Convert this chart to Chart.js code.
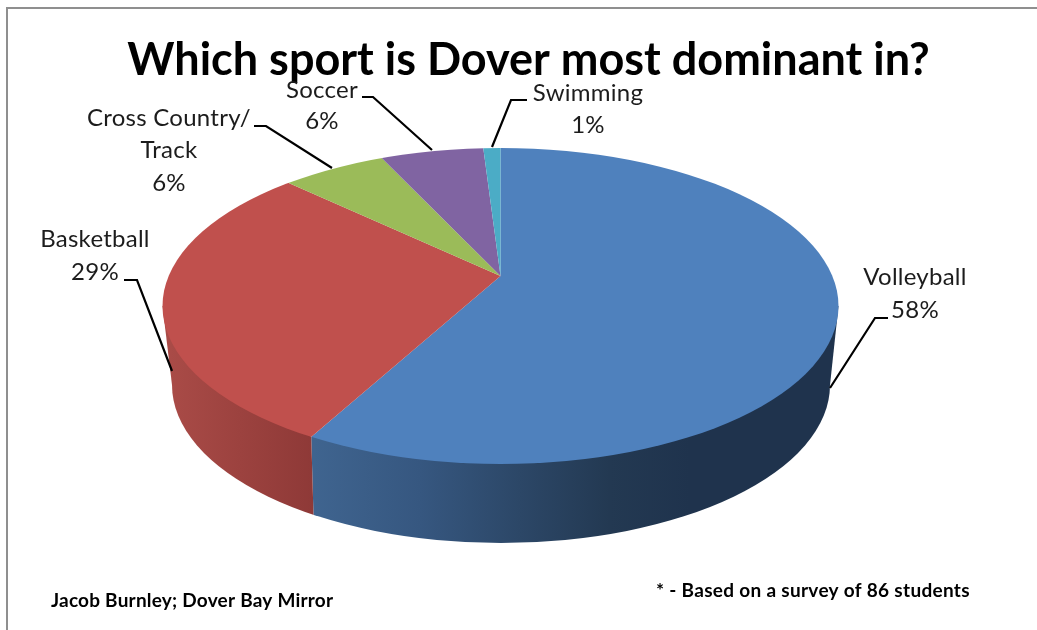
<!DOCTYPE html>
<html>
<head>
<meta charset="utf-8">
<style>
html,body{margin:0;padding:0;background:#fff;overflow:hidden;}
canvas{display:block;}
</style>
<script src="https://cdn.jsdelivr.net/npm/chart.js@4"></script>
</head>
<body>
<canvas id="chartSport" width="1037" height="630"></canvas>
<script>
// data
const titleText="Which sport is Dover most dominant in?";
const categories=["Volleyball","Basketball","Cross Country/Track","Soccer","Swimming"];
const percents=[58,29,6,6,1];
const colors=["#4f81bd","#c0504d","#9bbb59","#8064a2","#4bacc6"];
const creditText="Jacob Burnley; Dover Bay Mirror";
const noteText="* - Based on a survey of 86 students";

// projected disc: top face, bottom face, and where the slices meet
const topFace={x:500.5,y:306,rx:338,ry:158};
const botFace={x:501,y:385,rx:329,ry:158};
const apex={x:500.5,y:276};
const squash=topFace.ry/topFace.rx;

// side wall shading, left to right
const wallStops={
0:[[315,"#3f648f"],[420,"#365780"],[520,"#2c4767"],[610,"#233952"],[690,"#1f334d"],[835,"#1f334d"]],
1:[[170,"#a94b47"],[240,"#9c423f"],[315,"#8e3937"]]
};

// label placement: centre x, baselines, leader line
const labelSpots=[
{lines:["Volleyball"],x:915,y:[285,318],leader:[[888,318],[875,318],[830,388]]},
{lines:["Basketball"],x:95,y:[247,280],leader:[[124,280],[137,280],[172,371]]},
{lines:["Cross Country/","Track"],x:169,y:[126,158,191],leader:[[254,126],[266,126],[332,168]]},
{lines:["Soccer"],x:322,y:[98,129],leader:[[362,97],[373,97],[432,150]]},
{lines:["Swimming"],x:588,y:[101,133],leader:[[527,100],[511,100],[492,147]]}
];

// where a ray from the apex leaves the top ellipse
function rimPoint(angle){
let dx=Math.cos(angle),dy=Math.sin(angle)*squash;
let ox=(apex.x-topFace.x)/topFace.rx,oy=(apex.y-topFace.y)/topFace.ry;
let ax=dx/topFace.rx,ay=dy/topFace.ry;
let a=ax*ax+ay*ay,b=2*(ox*ax+oy*ay),c=ox*ox+oy*oy-1;
let t=(-b+Math.sqrt(b*b-4*a*c))/(2*a);
return {x:apex.x+dx*t,y:apex.y+dy*t};
}

function bottomX(x){
return botFace.x+(x-topFace.x)*botFace.rx/topFace.rx;
}

function drawWalls(ctx,arcs){
arcs.forEach((arc,i)=>{
if(!wallStops[i]) return;
let s=rimPoint(arc.startAngle),e=rimPoint(arc.endAngle);
let sFront=s.y>topFace.y,eFront=e.y>topFace.y;
if(!sFront&&!eFront) return;
let hiTop=sFront?s.x:1037,loTop=eFront?e.x:0;
let hiBot=sFront?bottomX(s.x):1037,loBot=eFront?bottomX(e.x):0;
ctx.save();
ctx.beginPath();
ctx.moveTo(loTop,eFront?e.y:0);
ctx.lineTo(hiTop,sFront?s.y:0);
ctx.lineTo(hiBot,630);
ctx.lineTo(loBot,630);
ctx.closePath();
ctx.clip();
let g=ctx.createLinearGradient(0,0,1037,0);
wallStops[i].forEach(st=>g.addColorStop(st[0]/1037,st[1]));
ctx.fillStyle=g;
ctx.beginPath();
ctx.ellipse(botFace.x,botFace.y,botFace.rx,botFace.ry,0,0,Math.PI*2);
ctx.fill();
ctx.beginPath();
ctx.moveTo(topFace.x-topFace.rx,topFace.y);
ctx.lineTo(topFace.x+topFace.rx,topFace.y);
ctx.lineTo(botFace.x+botFace.rx,botFace.y);
ctx.lineTo(botFace.x-botFace.rx,botFace.y);
ctx.closePath();
ctx.fill();
ctx.restore();
});
}

const disc3d={
id:"disc3d",
beforeDraw(chart){
let ctx=chart.ctx;
ctx.save();
ctx.fillStyle="#fff";
ctx.fillRect(0,0,1037,630);
ctx.strokeStyle="#8f8f8f";
ctx.lineWidth=2;
ctx.beginPath();
ctx.moveTo(7,630);
ctx.lineTo(7,8);
ctx.lineTo(1037,8);
ctx.stroke();
ctx.restore();
},
beforeDatasetDraw(chart,args){
let ctx=chart.ctx;
let arcs=args.meta.data;
ctx.save();
drawWalls(ctx,arcs);
ctx.beginPath();
ctx.ellipse(topFace.x,topFace.y,topFace.rx,topFace.ry,0,0,Math.PI*2);
ctx.clip();
ctx.translate(apex.x,apex.y);
ctx.scale(1,squash);
ctx.translate(-arcs[0].x,-arcs[0].y);
},
afterDatasetDraw(chart){
chart.ctx.restore();
},
afterDraw(chart){
let ctx=chart.ctx;
ctx.save();
ctx.textAlign="center";
ctx.textBaseline="alphabetic";
ctx.fillStyle="#1c1c1c";
ctx.font="24px Lato";
ctx.letterSpacing="0.25px";
labelSpots.forEach((spot,i)=>{
let lines=spot.lines.concat([percents[i]+"%"]);
lines.forEach((t,k)=>ctx.fillText(t,spot.x,spot.y[k]));
ctx.strokeStyle="#000";
ctx.lineWidth=2.2;
ctx.beginPath();
spot.leader.forEach((p,k)=>k?ctx.lineTo(p[0],p[1]):ctx.moveTo(p[0],p[1]));
ctx.stroke();
});
ctx.textAlign="left";
ctx.fillStyle="#000";
ctx.font="bold 19px Lato";
ctx.letterSpacing="0.22px";
ctx.fillText(creditText,51,607);
ctx.letterSpacing="0.3px";
ctx.fillText(noteText,656,597);
ctx.restore();
}
};

new Chart(document.getElementById("chartSport"),{
type:"pie",
data:{
labels:categories,
datasets:[{
data:percents,
backgroundColor:colors,
borderWidth:0,
clip:false
}]
},
options:{
responsive:false,
animation:false,
radius:900,
layout:{padding:{left:20}},
events:[],
plugins:{
legend:{display:false},
tooltip:{enabled:false},
title:{
display:true,
text:titleText,
color:"#000",
font:{family:"Lato",size:45,weight:"bold"},
padding:{top:33,bottom:10}
}
}
},
plugins:[disc3d]
});
</script>
</body>
</html>
